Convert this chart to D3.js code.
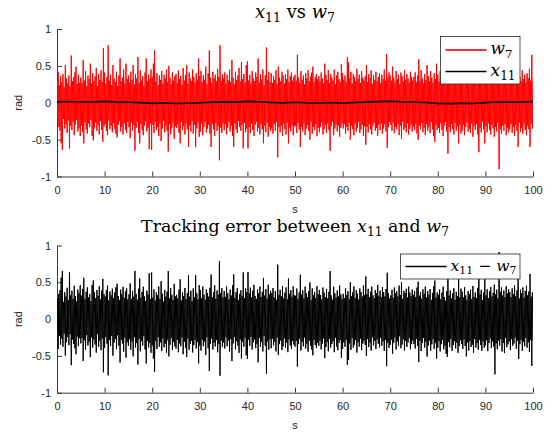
<!DOCTYPE html>
<html>
<head>
<meta charset="utf-8">
<script src="https://cdn.jsdelivr.net/npm/d3@7"></script>
<style>
  body { margin: 0; background: #fff; }
  svg { display: block; }
</style>
</head>
<body>
<svg id="fig" width="551" height="434"></svg>
<script>
// Reference signal w7 (rad), sampled every 0.125 s over 0..100 s (one row = 5 s)
const dt = 0.125;
const w7 = [
  .31,-.27,.42,-.33,.24,-.38,.36,-.55,.28,-.64,.39,-.22,.21,-.35,.51,-.29,.33,-.41,.26,-.24,.37,-.62,.22,-.31,.64,-.37,.29,-.26,.35,-.44,.41,-.30,.49,-.23,.25,-.39,.38,-.34,.27,-.45,
  .34,-.31,.27,-.40,.58,-.55,.30,-.26,.43,-.36,.23,-.42,.37,-.28,.32,-.33,.53,-.23,.26,-.45,.40,-.51,.29,-.35,.36,-.27,.47,-.38,.22,-.30,.39,-.43,.31,-.25,.44,-.37,.28,-.53,.74,-.32,
  .41,-.29,.26,-.38,.35,-.44,.78,-.24,.30,-.36,.38,-.31,.24,-.40,.51,-.27,.33,-.35,.28,-.42,.42,-.47,.23,-.30,.37,-.25,.60,-.39,.29,-.33,.34,-.43,.45,-.28,.26,-.37,.53,-.41,.32,-.26,
  .37,-.33,.28,-.48,.42,-.27,.31,-.38,.51,-.30,.25,-.65,.39,-.34,.33,-.26,.62,-.41,.27,-.55,.44,-.29,.30,-.37,.36,-.44,.23,-.31,.41,-.25,.60,-.39,.29,-.34,.38,-.63,.32,-.28,.45,-.64,
  .35,-.30,.53,-.41,.71,-.26,.29,-.37,.40,-.33,.24,-.45,.37,-.28,.31,-.52,.43,-.35,.26,-.24,.38,-.40,.33,-.31,.45,-.38,.28,-.66,.50,-.29,.34,-.43,.25,-.34,.41,-.27,.30,-.49,.36,-.32,
  .39,-.34,.27,-.29,.44,-.41,.32,-.55,.36,-.26,.24,-.37,.47,-.32,.30,-.43,.38,-.28,.51,-.36,.26,-.60,.41,-.31,.33,-.39,.29,-.25,.45,-.42,.35,-.30,.28,-.60,.40,-.35,.31,-.27,.60,-.46,
  .36,-.39,.43,-.28,.28,-.44,.37,-.33,.31,-.26,.49,-.40,.25,-.35,.40,-.30,.71,-.42,.34,-.60,.27,-.29,.42,-.36,.33,-.45,.38,-.27,.29,-.38,.46,-.32,.35,-.78,.78,-.34,.30,-.41,.39,-.28,
  .33,-.37,.41,-.29,.26,-.43,.38,-.34,.30,-.26,.45,-.39,.28,-.31,.58,-.45,.34,-.60,.25,-.28,.42,-.36,.31,-.41,.37,-.25,.47,-.33,.29,-.38,.55,-.30,.32,-.62,.39,-.27,.27,-.40,.51,-.35,
  .56,-.62,.30,-.33,.38,-.41,.26,-.28,.43,-.37,.33,-.45,.29,-.30,.41,-.26,.35,-.39,.60,-.34,.27,-.43,.39,-.29,.32,-.36,.45,-.55,.24,-.31,.37,-.40,.75,-.27,.31,-.46,.42,-.33,.28,-.38,
  .40,-.35,.27,-.42,.36,-.29,.31,-.38,.44,-.26,.25,-.74,.49,-.33,.34,-.40,.29,-.31,.42,-.45,.37,-.28,.26,-.36,.39,-.43,.32,-.27,.45,-.55,.28,-.34,.36,-.39,.41,-.30,.30,-.44,.35,-.32,
  .38,-.31,.30,-.41,.65,-.27,.34,-.36,.27,-.60,.43,-.33,.31,-.39,.37,-.28,.25,-.44,.40,-.35,.33,-.30,.44,-.38,.29,-.50,.36,-.26,.41,-.42,.49,-.33,.28,-.37,.35,-.29,.39,-.45,.32,-.34,
  .36,-.40,.29,-.33,.41,-.27,.33,-.43,.26,-.36,.53,-.30,.38,-.41,.31,-.28,.44,-.37,.27,-.65,.39,-.32,.34,-.26,.30,-.44,.45,-.35,.25,-.29,.37,-.39,.42,-.31,.32,-.46,.28,-.34,.52,-.28,
  .40,-.35,.31,-.29,.37,-.42,.28,-.33,.62,-.38,.55,-.27,.33,-.50,.42,-.31,.26,-.36,.39,-.44,.35,-.28,.29,-.39,.46,-.34,.32,-.26,.38,-.41,.27,-.36,.43,-.30,.34,-.45,.30,-.32,.36,-.57,
  .51,-.33,.28,-.40,.39,-.29,.33,-.36,.44,-.43,.26,-.31,.37,-.27,.31,-.38,.42,-.34,.29,-.45,.35,-.30,.40,-.37,.27,-.28,.38,-.42,.32,-.35,.45,-.29,.30,-.39,.66,-.61,.34,-.33,.41,-.26,
  .37,-.30,.30,-.38,.49,-.27,.34,-.41,.27,-.33,.43,-.36,.32,-.29,.38,-.44,.25,-.31,.41,-.49,.36,-.26,.29,-.37,.44,-.34,.31,-.40,.39,-.28,.33,-.43,.27,-.35,.42,-.30,.35,-.39,.30,-.32,
  .35,-.37,.41,-.29,.28,-.42,.37,-.50,.59,-.31,.30,-.36,.44,-.27,.33,-.40,.26,-.34,.39,-.44,.31,-.29,.51,-.38,.36,-.33,.29,-.41,.43,-.26,.34,-.36,.27,-.45,.40,-.53,.32,-.30,.53,-.37,
  .38,-.34,.29,-.41,.43,-.28,.33,-.37,.27,-.45,.40,-.31,.35,-.26,.46,-.39,.50,-.69,.30,-.33,.37,-.40,.26,-.29,.42,-.36,.34,-.43,.29,-.27,.39,-.38,.31,-.32,.45,-.55,.36,-.30,.28,-.42,
  .33,-.38,.40,-.30,.27,-.44,.36,-.33,.50,-.27,.31,-.39,.42,-.35,.29,-.41,.37,-.28,.34,-.46,.45,-.31,.26,-.37,.38,-.29,.32,-.43,.41,-.67,.28,-.34,.35,-.40,.43,-.26,.30,-.36,.39,-.55,
  .36,-.32,.29,-.40,.44,-.28,.33,-.37,.27,-.43,.40,-.30,.31,-.35,.38,-.46,.76,-.33,.34,-.39,.42,-.27,.30,-.90,.37,-.36,.28,-.42,.45,-.31,.33,-.38,.47,-.29,.26,-.44,.39,-.34,.35,-.40,
  .31,-.36,.43,-.29,.28,-.41,.37,-.33,.34,-.45,.26,-.30,.41,-.38,.30,-.60,.55,-.27,.35,-.39,.29,-.34,.44,-.42,.32,-.28,.38,-.37,.27,-.44,.40,-.31,.33,-.36,.46,-.60,.30,-.29,.65,-.35,
  .30
];

// State x11 (rad), sampled every 2.5 s
const x11Step = 2.5;
const x11 = [
  0.012, 0.016, 0.010, 0.014, 0.018, 0.011, 0.006, 0.002, -0.008, -0.004,
  -0.011, -0.006, 0.001, 0.006, 0.012, 0.008, 0.019, 0.013, 0.004, -0.002,
  0.006, -0.001, -0.004, 0.003, -0.006, 0.004, 0.009, 0.015, 0.021, 0.014,
  0.010, 0.003, -0.009, -0.012, -0.006, -0.010, 0.002, 0.011, 0.007, 0.010,
  0.015
];

const xTicks = [0, 10, 20, 30, 40, 50, 60, 70, 80, 90, 100];
const yTicks = [-1, -0.5, 0, 0.5, 1];
const xDomain = [0, 100];
const yDomain = [-1, 1];

const w7Time = w7.map((_, i) => i * dt);
const x11Time = x11.map((_, i) => i * x11Step);
// piecewise-linear x11 trace, read at the w7 sample times
const x11Line = d3.scaleLinear().domain(x11Time).range(x11);
const trackErr = w7.map((v, i) => x11Line(w7Time[i]) - v);

const svg = d3.select("#fig");
const left = 57, right = 533;
const x = d3.scaleLinear().domain(xDomain).range([left, right]);

const AX = "#262626";
const TICK_FONT = "'Liberation Sans', Arial, sans-serif";
const MATH_FONT = "'DejaVu Serif', 'Liberation Serif', serif";

// Math-style text: italic variables, upright words, lowered subscripts.
// The font size is chosen so the string spans `width` pixels.
function mathText(g, parts, width) {
  const build = size => {
    const t = g.append("text")
      .attr("font-family", MATH_FONT)
      .attr("font-size", size)
      .attr("fill", "#000");
    let shifted = false;
    parts.forEach(p => {
      const s = t.append("tspan").text(p.t);
      if (p.it) s.attr("font-style", "italic");
      if (p.sub) {
        s.attr("font-size", size * 0.7).attr("dy", shifted ? 0 : size * 0.25);
        shifted = true;
      } else if (shifted) {
        s.attr("dy", -size * 0.25);
        shifted = false;
      }
    });
    return t;
  };
  const probe = build(16);
  const w = probe.node().getComputedTextLength();
  probe.remove();
  return build(16 * width / w);
}

function panel(top, bottom, title, series, legendItems, legendBox) {
  const y = d3.scaleLinear().domain(yDomain).range([bottom, top]);
  const g = svg.append("g");

  const clipId = "clip" + Math.round(top);
  svg.append("clipPath").attr("id", clipId)
    .append("rect").attr("x", left).attr("y", top)
    .attr("width", right - left).attr("height", bottom - top);

  // axes, ticks pointing inward
  const xa = g.append("g").attr("transform", `translate(0,${bottom})`)
    .call(d3.axisBottom(x).tickValues(xTicks).tickFormat(d3.format("d"))
      .tickSizeInner(-5).tickSizeOuter(0).tickPadding(10));
  const ya = g.append("g").attr("transform", `translate(${left},0)`)
    .call(d3.axisLeft(y).tickValues(yTicks).tickFormat(d => String(d))
      .tickSizeInner(-5).tickSizeOuter(0).tickPadding(6));
  [xa, ya].forEach(a => {
    a.select(".domain").attr("stroke", AX).attr("stroke-width", 0.9);
    a.selectAll(".tick line").attr("stroke", AX).attr("stroke-width", 0.9);
    a.selectAll(".tick text").attr("fill", AX)
      .attr("font-family", TICK_FONT).attr("font-size", 11);
  });

  // data lines
  const plot = g.append("g").attr("clip-path", `url(#${clipId})`);
  series.forEach(s => {
    plot.append("path")
      .datum(s.values.map((v, i) => [s.time[i], v]))
      .attr("fill", "none")
      .attr("stroke", s.color)
      .attr("stroke-width", s.width)
      .attr("stroke-linejoin", "round")
      .attr("d", d3.line().x(d => x(d[0])).y(d => y(d[1])));
  });

  // axis labels
  g.append("text")
    .attr("x", (left + right) / 2).attr("y", bottom + 36)
    .attr("text-anchor", "middle")
    .attr("font-family", TICK_FONT).attr("font-size", 11).attr("fill", AX)
    .text("s");
  g.append("text")
    .attr("transform", `translate(22,${(top + bottom) / 2}) rotate(-90)`)
    .attr("text-anchor", "middle")
    .attr("font-family", TICK_FONT).attr("font-size", 11).attr("fill", AX)
    .text("rad");

  // title
  mathText(g, title.parts, title.width)
    .attr("x", (left + right) / 2).attr("y", top - title.gap)
    .attr("text-anchor", "middle");

  // legend
  const lg = g.append("g");
  lg.append("rect")
    .attr("x", legendBox.x).attr("y", legendBox.y)
    .attr("width", legendBox.w).attr("height", legendBox.h)
    .attr("fill", "#fff").attr("stroke", AX).attr("stroke-width", 0.8);
  legendItems.forEach((it, k) => {
    const ly = legendBox.y + legendBox.rowTop + k * legendBox.rowGap;
    lg.append("line")
      .attr("x1", legendBox.x + 5).attr("x2", legendBox.x + 46)
      .attr("y1", ly).attr("y2", ly)
      .attr("stroke", it.color).attr("stroke-width", it.width);
    mathText(lg, it.parts, it.textWidth)
      .attr("x", legendBox.x + 50).attr("y", ly + 4);
  });
}

panel(29, 176.5,
  {parts: [{t: "x", it: true}, {t: "11", sub: true}, {t: " vs "}, {t: "w", it: true}, {t: "7", sub: true}],
   width: 80, gap: 11},
  [
    {time: w7Time, values: w7, color: "#ff0000", width: 1},
    {time: x11Time, values: x11, color: "#000", width: 1.6}
  ],
  [
    {parts: [{t: "w", it: true}, {t: "7", sub: true}], color: "#ff3030", width: 1.8, textWidth: 22},
    {parts: [{t: "x", it: true}, {t: "11", sub: true}], color: "#000", width: 1.6, textWidth: 25}
  ],
  {x: 440.5, y: 36.5, w: 79.5, h: 47.5, rowTop: 13.5, rowGap: 21.5}
);

panel(245.5, 392.7,
  {parts: [{t: "Tracking error between "}, {t: "x", it: true}, {t: "11", sub: true},
           {t: " and "}, {t: "w", it: true}, {t: "7", sub: true}],
   width: 308, gap: 14},
  [
    {time: w7Time, values: trackErr, color: "#000", width: 1}
  ],
  [
    {parts: [{t: "x", it: true}, {t: "11", sub: true}, {t: " − "}, {t: "w", it: true}, {t: "7", sub: true}],
     color: "#000", width: 1.6, textWidth: 66}
  ],
  {x: 400.5, y: 254, w: 119.5, h: 25, rowTop: 12.5, rowGap: 0}
);
</script>
</body>
</html>
